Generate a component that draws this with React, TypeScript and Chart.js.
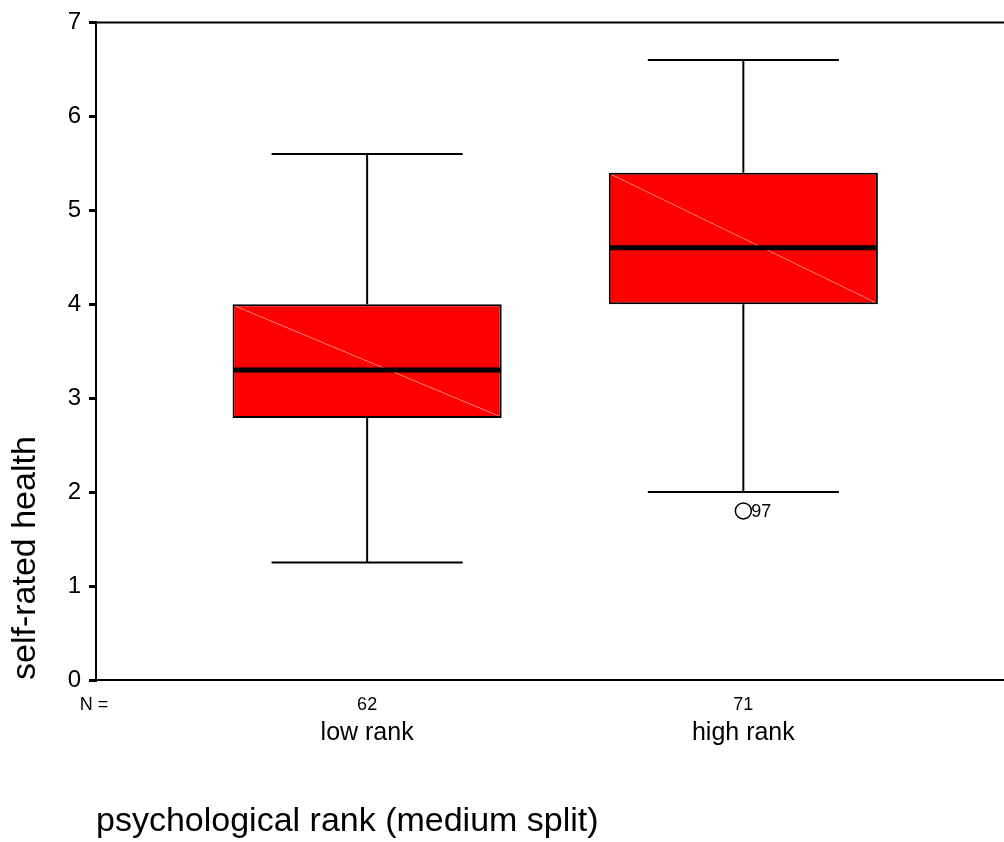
import React, { useEffect, useRef } from 'react';
import { Chart, registerables } from 'chart.js';

Chart.register(...registerables);

// ---- data ----
const categories = ['low rank', 'high rank'];
const counts = ['62', '71'];
const lowerWhisker = [1.25, 2.0];
const q1 = [2.79, 4.0];
const median = [3.3, 4.6];
const q3 = [4.0, 5.4];
const upperWhisker = [5.6, 6.6];
const outlierGroup = [1];
const outlierValue = [1.8];
const outlierCase = ['97'];
const yTickValues = [0, 1, 2, 3, 4, 5, 6, 7];

const FONT = "'Liberation Sans', Arial, Helvetica, sans-serif";

const boxPlugin = {
  id: 'boxExtras',
  afterDatasetsDraw(chart: any) {
    const { ctx, chartArea, scales } = chart;
    const y = scales.y;
    const x = scales.x;
    ctx.save();
    // top frame line
    ctx.strokeStyle = '#000';
    ctx.lineWidth = 2;
    ctx.beginPath();
    ctx.moveTo(chartArea.left, chartArea.top);
    ctx.lineTo(chart.width, chartArea.top);
    ctx.stroke();
    // extend bottom axis to the right edge
    ctx.beginPath();
    ctx.moveTo(chartArea.right, chartArea.bottom);
    ctx.lineTo(chart.width, chartArea.bottom);
    ctx.stroke();

    const meta = chart.getDatasetMeta(0);
    meta.data.forEach((bar: any, i: number) => {
      const { x: cx, width } = bar.getProps(['x', 'width'], true);
      const left = cx - width / 2;
      const right = cx + width / 2;
      const yQ1 = y.getPixelForValue(q1[i]);
      const yQ3 = y.getPixelForValue(q3[i]);
      const yMed = y.getPixelForValue(median[i]);
      const yLo = y.getPixelForValue(lowerWhisker[i]);
      const yHi = y.getPixelForValue(upperWhisker[i]);
      const capHalf = (width * 0.71) / 2;

      // faint diagonal
      ctx.strokeStyle = 'rgba(255,150,150,0.85)';
      ctx.lineWidth = 1;
      ctx.beginPath();
      ctx.moveTo(left + 3, yQ3 + 2);
      ctx.lineTo(right - 3, yQ1 - 2);
      ctx.stroke();

      // median
      ctx.strokeStyle = '#000';
      ctx.lineWidth = 5;
      ctx.beginPath();
      ctx.moveTo(left + 1, yMed);
      ctx.lineTo(right - 1, yMed);
      ctx.stroke();

      // whiskers
      ctx.lineWidth = 2;
      ctx.beginPath();
      ctx.moveTo(cx, yQ3);
      ctx.lineTo(cx, yHi);
      ctx.moveTo(cx, yQ1);
      ctx.lineTo(cx, yLo);
      ctx.moveTo(cx - capHalf, yHi);
      ctx.lineTo(cx + capHalf, yHi);
      ctx.moveTo(cx - capHalf, yLo);
      ctx.lineTo(cx + capHalf, yLo);
      ctx.stroke();
    });

    // N = counts
    ctx.fillStyle = '#000';
    ctx.font = `18px ${FONT}`;
    ctx.textAlign = 'center';
    ctx.textBaseline = 'alphabetic';
    const nY = chartArea.bottom + 30;
    ctx.fillText('N =', chartArea.left - 2, nY);
    counts.forEach((c, i) => {
      ctx.fillText(c, x.getPixelForValue(i), nY);
    });
    ctx.restore();
  },
  afterDraw(chart: any) {
    const { ctx } = chart;
    const meta = chart.getDatasetMeta(1);
    ctx.save();
    ctx.fillStyle = '#000';
    ctx.font = `18px ${FONT}`;
    ctx.textAlign = 'left';
    ctx.textBaseline = 'middle';
    meta.data.forEach((pt: any, i: number) => {
      ctx.fillText(outlierCase[i], pt.x + 8, pt.y + 1);
    });
    ctx.restore();
  },
};

export default function App() {
  const ref = useRef<HTMLCanvasElement>(null);

  useEffect(() => {
    if (!ref.current) return;
    Chart.defaults.font.family = FONT;
    Chart.defaults.color = '#000';
    const chart = new Chart(ref.current, {
      type: 'bar',
      data: {
        datasets: [
          {
            type: 'bar',
            data: categories.map((_, i) => ({ x: i, y: [q1[i], q3[i]] })) as any,
            backgroundColor: '#ff0000',
            borderColor: '#000',
            borderWidth: 2,
            borderSkipped: false,
            barPercentage: 0.7154,
            categoryPercentage: 1,
          } as any,
          {
            type: 'scatter',
            data: outlierGroup.map((g, i) => ({ x: g, y: outlierValue[i] })),
            pointStyle: 'circle',
            pointRadius: 8,
            pointBackgroundColor: '#fff',
            pointBorderColor: '#000',
            pointBorderWidth: 1.5,
          } as any,
        ],
      },
      options: {
        animation: false,
        responsive: false,
        devicePixelRatio: 1,
        layout: { padding: { top: 20, right: 0, left: 0, bottom: 0 } },
        plugins: { legend: { display: false }, tooltip: { enabled: false } },
        scales: {
          x: {
            type: 'linear',
            offset: false,
            min: -0.7207,
            max: 1.6676,
            afterBuildTicks: (scale: any) => {
              scale.ticks = categories.map((_, i) => ({ value: i }));
            },
            afterFit: (scale: any) => {
              scale.height = 162;
            },
            ticks: {
              callback: (v: any) => categories[v] ?? '',
              font: { size: 25 },
              color: '#000',
              padding: 38,
              maxRotation: 0,
              autoSkip: false,
            },
            grid: { display: false, drawTicks: false },
            border: { display: true, color: '#000', width: 2 },
            title: {
              display: true,
              text: 'psychological rank (medium split)',
              align: 'start',
              font: { size: 34 },
              color: '#000',
              padding: { top: 0, bottom: 0 },
            },
          },
          y: {
            type: 'linear',
            min: 0,
            max: 7,
            afterBuildTicks: (scale: any) => {
              scale.ticks = yTickValues.map((v) => ({ value: v }));
            },
            afterFit: (scale: any) => {
              scale.width = 96;
            },
            ticks: {
              font: { size: 24 },
              color: '#000',
              padding: 8,
            },
            grid: {
              drawOnChartArea: false,
              drawTicks: true,
              tickLength: 7,
              lineWidth: 3,
              color: '#000',
            },
            border: { display: true, color: '#000', width: 2 },
            title: {
              display: true,
              text: 'self-rated health',
              align: 'start',
              font: { size: 34 },
              color: '#000',
              padding: { top: 5, bottom: 0 },
            },
          },
        },
      },
      plugins: [boxPlugin],
    });
    return () => chart.destroy();
  }, []);

  return (
    <div style={{ position: 'absolute', left: 0, top: 0, width: 1004, height: 842, background: '#fff' }}>
      <canvas ref={ref} width={1004} height={842} />
    </div>
  );
}
